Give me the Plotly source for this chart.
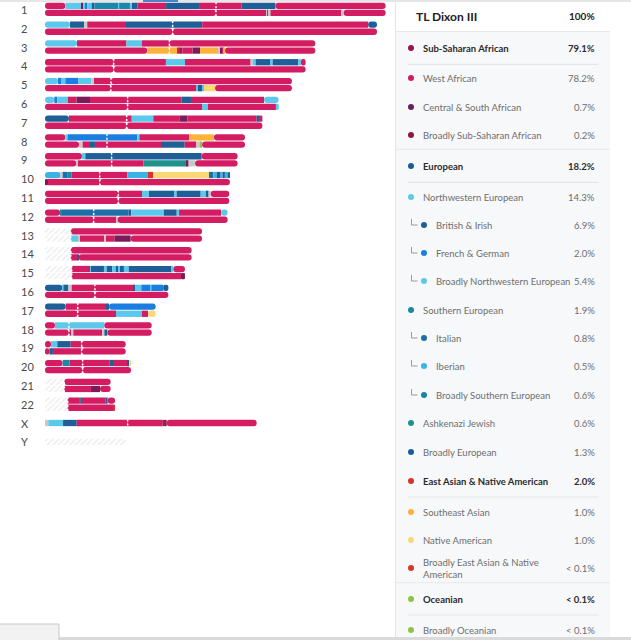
import plotly.graph_objects as go

W, H = 631, 640

# ---- chromosome painting data (positions in Mb, each tuple = (population, segment end)) ----
chrom_names = [str(i) for i in range(1, 23)] + ["X", "Y"]
centromeres = [125.0, 93.3, 90.9, 50.2, 48.2, 60.4, 59.7, 45.3, 48.7, 40.0, 53.6, 35.6,
               18.8, 18.8, 19.5, 36.5, 23.9, 17.5, 26.8, 27.5, 14.1, 16.6, 60.4, 12.2]

c1a = [("WA", 14.9), ("NW", 26.3), ("CSA", 28.0), ("NW", 29.5), ("FG", 30.9), ("NW", 34.1), ("BI", 36.1),
       ("SE", 53.6), ("NW", 54.3), ("SE", 62.1), ("NW", 63.6), ("BI", 67.7), ("WA", 88.5), ("BI", 112.6),
       ("WA", 143.8), ("BI", 168.4), ("WA", 249.0)]
c1b = [("WA", 161.9), ("GR", 162.6), ("WA", 163.6), ("GR", 164.8), ("WA", 217.1), ("GR", 218.3), ("WA", 249.0)]
c2a = [("NW", 18.3), ("BI", 28.6), ("GR", 30.9), ("WA", 59.2), ("BI", 114.9), ("WA", 236.2), ("BI", 242.7)]
c2b = [("WA", 242.7)]
c3a = [("NW", 23.4), ("WA", 59.5), ("NW", 70.9), ("WA", 197.6)]
c3b = [("WA", 74.8), ("SA", 96.5), ("WA", 98.0), ("BSSA", 100.6), ("WA", 107.9), ("CSA", 113.3), ("SA", 126.7),
       ("GR", 127.9), ("CSA", 129.6), ("WA", 130.3), ("SA", 131.6), ("WA", 197.6)]
c4a = [("WA", 88.4), ("NW", 102.3), ("WA", 150.3), ("GR", 151.8), ("NW", 154.0), ("BI", 165.0), ("NW", 166.4),
       ("BI", 185.2), ("NW", 187.1), ("WA", 190.5)]
c4b = [("WA", 190.5)]
c5a = [("NW", 9.5), ("FG", 11.7), ("NW", 14.9), ("FG", 24.4), ("NW", 33.9), ("GR", 35.8), ("WA", 180.5)]
c5b = [("WA", 110.4), ("NW", 111.8), ("BI", 114.8), ("NW", 116.2), ("NA", 124.3), ("WA", 180.5)]
c6a = [("NW", 6.8), ("FG", 9.0), ("NW", 16.6), ("WA", 23.1), ("CSA", 32.9), ("WA", 99.9), ("BI", 106.7),
       ("WA", 160.1), ("NW", 170.8)]
c6b = [("WA", 114.8), ("NW", 119.1), ("WA", 168.8), ("NW", 170.8)]
c7a = [("BI", 17.5), ("WA", 63.4), ("NW", 79.2), ("WA", 98.2), ("CSA", 104.0), ("WA", 154.7), ("BI", 157.1),
       ("WA", 158.9)]
c7b = [("WA", 158.9)]
c8a = [("WA", 14.9), ("NW", 16.8), ("FG", 67.5), ("NW", 69.0), ("WA", 105.3), ("SA", 123.5), ("WA", 146.2)]
c8b = [("WA", 24.9), ("GR", 27.5), ("WA", 32.2), ("BI", 36.5), ("WA", 84.8), ("BI", 102.1), ("WA", 110.6),
       ("GR", 113.3), ("OC", 114.8), ("WA", 146.2)]
c9a = [("WA", 27.0), ("NW", 29.5), ("BI", 114.5), ("WA", 140.8)]
c9b = [("WA", 22.9), ("GR", 24.1), ("WA", 71.9), ("AJ", 103.6), ("CSA", 105.0), ("GR", 109.7), ("WA", 140.8)]
c10a = [("IB", 11.5), ("GR", 12.9), ("IT", 16.6), ("SE", 19.5), ("WA", 60.2), ("IB", 75.0), ("EANA", 79.2),
        ("NA", 119.9), ("IT", 123.0), ("IB", 125.5), ("BI", 127.9), ("IB", 129.8), ("BI", 131.5), ("IB", 133.9),
        ("BI", 135.2)]
c10b = [("CSA", 2.2), ("WA", 135.2)]
c11a = [("WA", 70.9), ("NW", 76.0), ("BI", 95.0), ("NW", 96.2), ("BI", 113.8), ("NW", 118.2), ("BI", 119.6),
        ("GR", 121.1), ("WA", 134.7)]
c11b = [("WA", 134.7)]
c12a = [("WA", 11.0), ("SE", 12.4), ("IT", 61.2), ("BI", 63.1), ("NW", 86.8), ("BI", 96.3), ("NW", 98.0),
        ("WA", 128.7), ("NW", 133.5)]
c12b = [("WA", 52.1), ("GR", 53.1), ("WA", 133.5)]
c13a = [("ND", 18.8), ("WA", 114.8)]
c13b = [("ND", 18.8), ("NW", 24.4), ("GR", 25.6), ("WA", 43.4), ("GR", 44.6), ("WA", 50.7), ("CSA", 62.6),
        ("WA", 114.8)]
c14a = [("ND", 18.8), ("WA", 107.2)]
c14b = [("ND", 18.8), ("WA", 23.4), ("BI", 24.6), ("WA", 107.2)]
c15a = [("ND", 19.5), ("WA", 32.9), ("NW", 33.6), ("BI", 43.1), ("NW", 45.1), ("BI", 49.2), ("NW", 51.7),
        ("BI", 53.8), ("NW", 54.8), ("BI", 57.7), ("NW", 61.2), ("BI", 92.6), ("NW", 93.8), ("WA", 102.3)]
c15b = [("ND", 19.5), ("WA", 99.4), ("CSA", 102.3)]
c16a = [("BI", 12.7), ("NW", 13.6), ("BI", 17.1), ("GR", 19.5), ("WA", 64.6), ("BI", 65.8), ("NW", 70.4),
        ("FG", 77.2), ("NW", 77.9), ("FG", 86.4), ("BI", 90.2)]
c16b = [("WA", 90.2)]
c17a = [("BI", 15.1), ("WA", 44.6), ("BI", 46.8), ("FG", 80.9)]
c17b = [("WA", 51.9), ("NW", 70.9), ("WA", 75.3), ("NA", 80.9)]
c18a = [("WA", 7.3), ("NW", 43.4), ("WA", 78.0)]
c18b = [("WA", 19.0), ("GR", 20.7), ("WA", 41.9), ("GR", 43.4), ("BI", 45.6), ("WA", 78.0)]
c19a = [("WA", 4.4), ("NW", 9.0), ("BI", 18.8), ("WA", 59.0)]
c19b = [("WA", 3.2), ("BI", 5.8), ("WA", 59.0)]
c20a = [("WA", 12.9), ("SE", 18.0), ("WA", 47.0), ("BI", 49.7), ("WA", 60.4), ("BI", 61.4), ("NA", 62.9)]
c20b = [("WA", 62.9)]
c21a = [("ND", 14.1), ("WA", 48.0)]
c21b = [("ND", 14.1), ("WA", 33.6), ("CSA", 40.2), ("WA", 48.0)]
c22a = [("ND", 16.6), ("WA", 25.1), ("SE", 26.3), ("WA", 44.1), ("BI", 45.8), ("WA", 51.2)]
c22b = [("ND", 16.6), ("WA", 50.0), ("EANA", 51.2)]
cXa = [("GR", 2.4), ("NW", 13.2), ("BI", 23.2), ("WA", 85.8), ("BSSA", 89.0), ("WA", 154.7)]
cYa = [("ND", 59.2)]

paintings = [(c1a, c1b), (c2a, c2b), (c3a, c3b), (c4a, c4b), (c5a, c5b), (c6a, c6b), (c7a, c7b),
             (c8a, c8b), (c9a, c9b), (c10a, c10b), (c11a, c11b), (c12a, c12b), (c13a, c13b),
             (c14a, c14b), (c15a, c15b), (c16a, c16b), (c17a, c17b), (c18a, c18b), (c19a, c19b),
             (c20a, c20b), (c21a, c21b), (c22a, c22b), (cXa,), (cYa,)]

# ---- ancestry composition table ----
pop_names = ["Sub-Saharan African", "West African", "Central & South African", "Broadly Sub-Saharan African",
             "European", "Northwestern European", "British & Irish", "French & German",
             "Broadly Northwestern European", "Southern European", "Italian", "Iberian",
             "Broadly Southern European", "Ashkenazi Jewish", "Broadly European",
             "East Asian & Native American", "Southeast Asian", "Native American",
             "Broadly East Asian & Native<br>American", "Oceanian", "Broadly Oceanian"]
pop_pct = ["79.1%", "78.2%", "0.7%", "0.2%", "18.2%", "14.3%", "6.9%", "2.0%", "5.4%", "1.9%", "0.8%",
           "0.5%", "0.6%", "0.6%", "1.3%", "2.0%", "1.0%", "1.0%", "< 0.1%", "< 0.1%", "< 0.1%"]
pop_level = [0, 1, 1, 1, 0, 1, 2, 2, 2, 1, 2, 2, 2, 1, 1, 0, 1, 1, 1, 0, 1]
pop_dot = ["#921550", "#d41c63", "#6d1c5c", "#8e1646", "#1d5a96", "#5bc8ec", "#1f5e96", "#1a7fe0",
           "#5bc8ec", "#1a87a7", "#1d6fa8", "#3ab4e2", "#1786a5", "#1f918d", "#1b5ca0", "#d5342b",
           "#fcb33b", "#fbd876", "#d6362a", "#8cc447", "#8cc447"]

seg_colors = {"WA": "#d41c63", "CSA": "#7a1b5c", "BSSA": "#9c1c4b", "NW": "#5bc8ec", "BI": "#1f5e96",
              "FG": "#1a7fe0", "SE": "#1b88a8", "IT": "#1d6fa8", "IB": "#3ab4e2", "AJ": "#1f918d",
              "SA": "#fcb33b", "NA": "#fbd876", "EANA": "#d9342b", "OC": "#8cc447", "GR": "#c8c8c8",
              "ND": "#ebebeb"}

FONT = "Lato"
ROW_Y = [48, 78, 107, 135, 166, 197, 225, 253, 281, 310, 338, 366, 395, 423, 452, 481, 512, 540, 568, 599, 630]


def split_pieces(segments, cen):
    # break the bar at the centromere so both ends can get their own rounded cap
    pieces = []
    start = 0.0
    for pop, end in segments:
        if start < cen < end:
            pieces.append((start, cen, pop))
            pieces.append((cen, end, pop))
        else:
            pieces.append((start, end, pop))
        start = end
    return pieces


groups = {}
cen_x, cen_y = [], []
for i, (bars, cen) in enumerate(zip(paintings, centromeres)):
    offsets = [-0.19, 0.19] if len(bars) == 2 else [0.0]
    for segs, off in zip(bars, offsets):
        pieces = split_pieces(segs, cen)
        for k, (s, e, pop) in enumerate(pieces):
            role = "left" if k == 0 else ("right" if k == len(pieces) - 1 else "mid")
            g = groups.setdefault((role, pop == "ND"), dict(y=[], x=[], base=[], color=[]))
            g["y"].append(i + off)
            if role == "left":
                # drawn backwards so the rounded end lands on the left
                g["base"].append(e)
                g["x"].append(-(e - s))
            else:
                g["base"].append(s)
                g["x"].append(e - s)
            g["color"].append(seg_colors[pop])
    half = 0.38 if len(bars) == 2 else 0.19
    cen_x += [cen, cen, None]
    cen_y += [i - half, i + half, None]

fig = go.Figure()
for (role, hatched), g in groups.items():
    marker = dict(color=g["color"], line_width=0)
    if hatched:
        marker["pattern"] = dict(shape="/", fillmode="replace", bgcolor="#ececec", fgcolor="#d6d6d6",
                                 fgopacity=1, size=4, solidity=0.35)
    if role != "mid":
        marker["cornerradius"] = "50%"
    fig.add_trace(go.Bar(orientation="h", y=g["y"], x=g["x"], base=g["base"], width=0.335,
                         marker=marker, hoverinfo="skip", xaxis="x", yaxis="y"))

# centromere markers
fig.add_trace(go.Scatter(x=cen_x, y=cen_y, mode="lines", hoverinfo="skip",
                         line=dict(color="white", width=1.5, dash="2px,2px"), xaxis="x", yaxis="y"))

# ---- table on a pixel-scaled overlay axis ----
DOT_X = [411, 411, 424]
TEXT_X = [421, 421, 434]
fig.add_trace(go.Scatter(x=[DOT_X[l] for l in pop_level], y=ROW_Y, mode="markers", hoverinfo="skip",
                         marker=dict(size=6, color=pop_dot), xaxis="x2", yaxis="y2"))
conn_x, conn_y = [], []
for lvl, yc in zip(pop_level, ROW_Y):
    if lvl == 2:
        conn_x += [411.5, 411.5, 417.5, None]
        conn_y += [yc - 6, yc, yc, None]
fig.add_trace(go.Scatter(x=conn_x, y=conn_y, mode="lines", hoverinfo="skip",
                         line=dict(color="#9a9a9a", width=1), xaxis="x2", yaxis="y2"))

annotations = []
for name, yc in zip(chrom_names, range(len(chrom_names))):
    annotations.append(dict(text=name, xref="paper", yref="y", x=19 / W, y=yc, xanchor="left",
                            showarrow=False, font=dict(size=11, color="#4a4a4a")))

annotations.append(dict(text="<b>TL Dixon III</b>", xref="x2", yref="y2", x=414, y=16, xanchor="left",
                        showarrow=False, font=dict(size=12, color="#222222")))
annotations.append(dict(text="<b>100%</b>", xref="x2", yref="y2", x=597, y=16, xanchor="right",
                        showarrow=False, font=dict(size=10, color="#222222")))
for name, pct, lvl, yc in zip(pop_names, pop_pct, pop_level, ROW_Y):
    bold = lvl == 0
    annotations.append(dict(text=f"<b>{name}</b>" if bold else name, xref="x2", yref="y2",
                            x=TEXT_X[lvl], y=yc, xanchor="left", align="left", showarrow=False,
                            font=dict(size=9.5, color="#2b2b2b" if bold else "#6e6e6e")))
    annotations.append(dict(text=f"<b>{pct}</b>" if bold else pct, xref="x2", yref="y2",
                            x=597, y=yc, xanchor="right", showarrow=False,
                            font=dict(size=9.5, color="#2b2b2b" if bold else "#6e6e6e")))


def hline(y, x0, x1, color, width=1):
    return dict(type="line", xref="x2", yref="y2", x0=x0, x1=x1, y0=y, y1=y,
                line=dict(color=color, width=width), layer="below")


shapes = [
    dict(type="rect", xref="x2", yref="y2", x0=395.5, x1=610, y0=31.5, y1=640,
         fillcolor="#f7f8fa", line_width=0, layer="below"),
    dict(type="line", xref="x2", yref="y2", x0=395.5, x1=395.5, y0=0, y1=640,
         line=dict(color="#e3e3e3", width=1), layer="below"),
    hline(31.5, 395.5, 610, "#e6e8eb"),
    hline(149.3, 395.5, 610, "#e6e8eb"),
    hline(582.7, 395.5, 610, "#e6e8eb"),
    hline(64.3, 408, 598, "#e3e5e8", 1.2),
    hline(182.3, 408, 598, "#e3e5e8", 1.2),
    hline(497, 408, 598, "#e3e5e8", 1.2),
    hline(615, 408, 598, "#e3e5e8", 1.2),
    hline(1, 0, 631, "#e6e6e6", 2),
    hline(1, 143, 178, "#4a86c5", 2),
    hline(638.5, 0, 631, "#dadada", 3),
    dict(type="rect", xref="x2", yref="y2", x0=-2, x1=59, y0=624, y1=642,
         fillcolor="#f2f2f2", line=dict(color="#c8c8c8", width=1), layer="below"),
]

# 0 Mb sits at x=45px, 1.368 px per Mb
fig.update_layout(
    width=W, height=H,
    margin=dict(l=0, r=0, t=0, b=0),
    paper_bgcolor="white", plot_bgcolor="rgba(0,0,0,0)",
    font=dict(family=FONT),
    showlegend=False,
    barmode="overlay",
    xaxis=dict(domain=[0, 1], range=[-45 / 1.368, (W - 45) / 1.368], visible=False, fixedrange=True),
    yaxis=dict(domain=[0, 1], range=[(H - 9.4) / 18.8, -9.4 / 18.8], visible=False, fixedrange=True),
    xaxis2=dict(domain=[0, 1], range=[0, W], visible=False, overlaying="x", anchor="y2"),
    yaxis2=dict(domain=[0, 1], range=[H, 0], visible=False, overlaying="y", anchor="x2"),
    annotations=annotations,
    shapes=shapes,
)

fig.write_html("out.html", config={"displayModeBar": False},
               post_script="document.body.style.margin='0';")
